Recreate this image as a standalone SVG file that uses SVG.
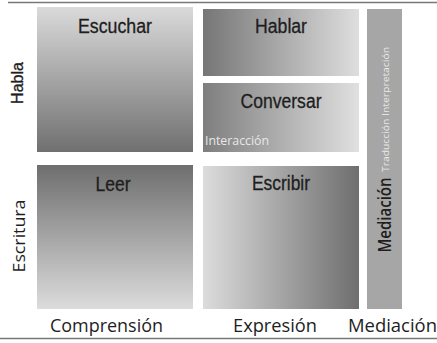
<svg xmlns="http://www.w3.org/2000/svg" width="437" height="343" viewBox="0 0 437 343">
<defs>
<linearGradient id="gDown" x1="0" y1="0" x2="0" y2="1"><stop offset="0" stop-color="#dadada"/><stop offset="1" stop-color="#707070"/></linearGradient>
<linearGradient id="gUp" x1="0" y1="0" x2="0" y2="1"><stop offset="0" stop-color="#6e6e6e"/><stop offset="1" stop-color="#dcdcdc"/></linearGradient>
<linearGradient id="gRight" x1="0" y1="0" x2="1" y2="0"><stop offset="0" stop-color="#767676"/><stop offset="1" stop-color="#dedede"/></linearGradient>
<linearGradient id="gRight2" x1="0" y1="0" x2="1" y2="0"><stop offset="0" stop-color="#7e7e7e"/><stop offset="1" stop-color="#e0e0e0"/></linearGradient>
<linearGradient id="gLeft" x1="0" y1="0" x2="1" y2="0"><stop offset="0" stop-color="#dcdcdc"/><stop offset="1" stop-color="#6e6e6e"/></linearGradient>
</defs>
<style>
.title{font-family:"Liberation Sans",Arial,sans-serif;font-size:20px;fill:#1e1e1e;text-anchor:middle;stroke:#1e1e1e;stroke-width:0.3}
.lab{font-family:"Open Sans","DejaVu Sans",sans-serif;font-size:18px;fill:#1e1e1e;text-anchor:middle}
.small{font-family:"Open Sans","DejaVu Sans",sans-serif;fill:#e8e8e8}
.rule{stroke:#777;stroke-width:1.5;fill:none}
</style>
<g id="rules">
<line class="rule" x1="8" y1="2.5" x2="437" y2="2.5"/>
<line class="rule" x1="0" y1="338.5" x2="437" y2="338.5"/>
</g>
<g id="connectors"></g>
<g id="escuchar">
<rect x="37" y="7" width="156" height="145" fill="url(#gDown)"/>
<text class="title" x="115" y="33" textLength="74" lengthAdjust="spacingAndGlyphs">Escuchar</text>
</g>
<g id="hablar">
<rect x="203" y="9" width="156" height="67" fill="url(#gRight)"/>
<text class="title" x="281" y="33" textLength="52" lengthAdjust="spacingAndGlyphs">Hablar</text>
</g>
<g id="conversar">
<rect x="203" y="83" width="156" height="69" fill="url(#gRight2)"/>
<text class="title" x="281" y="108" textLength="81" lengthAdjust="spacingAndGlyphs">Conversar</text>
<text class="small" x="205" y="145" font-size="12" textLength="64" lengthAdjust="spacingAndGlyphs">Interacción</text>
</g>
<g id="leer">
<rect x="37" y="165" width="156" height="144" fill="url(#gUp)"/>
<text class="title" x="113" y="191" textLength="35" lengthAdjust="spacingAndGlyphs">Leer</text>
</g>
<g id="escribir">
<rect x="203" y="166" width="156" height="143" fill="url(#gLeft)"/>
<text class="title" x="281" y="190" textLength="58" lengthAdjust="spacingAndGlyphs">Escribir</text>
</g>
<g id="mediacion-bar">
<rect x="367" y="9" width="35" height="300" fill="#a6a6a6"/>
<text class="lab" transform="translate(391,215) rotate(-90)" font-size="16" font-weight="600" textLength="75" lengthAdjust="spacingAndGlyphs">Mediación</text>
<text class="small" transform="translate(389,172) rotate(-90)" font-size="9" textLength="125" lengthAdjust="spacingAndGlyphs">Traducción Interpretación</text>
</g>
<g id="row-labels">
<text class="title" transform="translate(23,83) rotate(-90)" font-size="16" style="font-size:16px">Habla</text>
<text class="lab" transform="translate(25,236) rotate(-90)" style="font-size:17px" textLength="73" lengthAdjust="spacingAndGlyphs">Escritura</text>
</g>
<g id="col-labels">
<text class="lab" x="106.5" y="332" textLength="113" lengthAdjust="spacingAndGlyphs">Comprensión</text>
<text class="lab" x="275" y="332" textLength="84" lengthAdjust="spacingAndGlyphs">Expresión</text>
<text class="lab" x="392.5" y="332" textLength="89" lengthAdjust="spacingAndGlyphs">Mediación</text>
</g>
</svg>
